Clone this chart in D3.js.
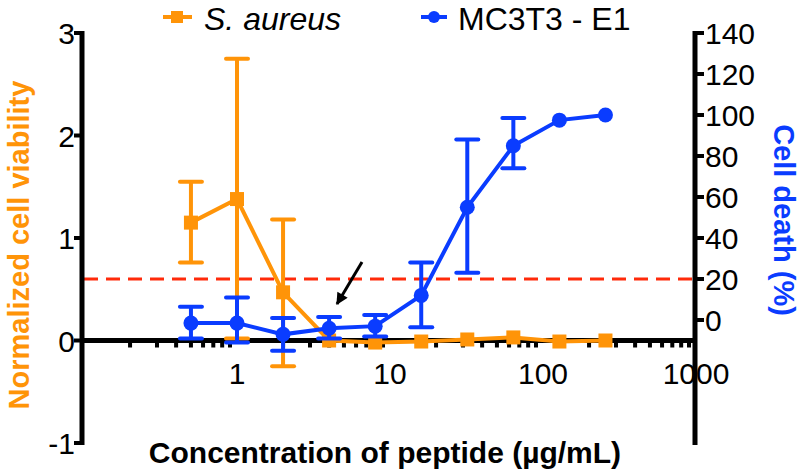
<!DOCTYPE html>
<html>
<head>
<meta charset="utf-8">
<script src="https://cdn.jsdelivr.net/npm/d3@7"></script>
<style>
  body { margin: 0; background: #fff; }
  text { font-family: "Liberation Sans", Arial, Helvetica, sans-serif; }
</style>
</head>
<body>
<svg id="chart" width="800" height="470"></svg>
<script>
// concentrations (ug/mL)
var conc = [0.5, 1, 2, 4, 8, 16, 32, 64, 128, 256];
// S. aureus normalized viability, left axis
var saMean = [1.15, 1.38, 0.47, 0.0, -0.02, -0.01, 0.01, 0.03, -0.01, 0.0];
var saLow  = [0.76, 0.02, -0.25, 0.0, -0.02, -0.01, 0.01, 0.03, -0.01, 0.0];
var saHigh = [1.55, 2.75, 1.18, 0.0, -0.02, -0.01, 0.01, 0.03, -0.01, 0.0];
// MC3T3 - E1 cell death (%), right axis
var mcMean = [-1.5, -1.5, -7, -4, -3, 12, 55, 85, 97.5, 100];
var mcLow  = [-9, -11, -15, -9, -8, -3.5, 23, 74, 97.5, 100];
var mcHigh = [6.5, 11, 1, 1.5, 2.5, 28, 88, 98.5, 97.5, 100];
var leftTicks = [-1, 0, 1, 2, 3];
var rightTicks = [0, 20, 40, 60, 80, 100, 120, 140];
var xLabels = [1, 10, 100, 1000];
var cutoff = 20;

var orange = "#ff9408", blue = "#0a3cff", red = "#ff2a0a";
var svg = d3.select("#chart");

var x = d3.scaleLog().domain([0.1, 1000]).range([84, 696]);
var yL = d3.scaleLinear().domain([-1, 3]).range([443, 33]);
var yR = d3.scaleLinear().domain([-60, 140]).range([443, 33]);

// minor x ticks
var minor = [];
[0.1, 1, 10, 100].forEach(function(d){
    for (var k = 2; k <= 9; k++) minor.push(d * k);
});
svg.append("g").selectAll("rect").data(minor).enter().append("rect")
    .attr("x", function(d){ return x(d) - 2; })
    .attr("y", yL(0))
    .attr("width", 4)
    .attr("height", 7)
    .attr("fill", "#000");

// x tick labels
svg.append("g").selectAll("text").data(xLabels).enter().append("text")
    .attr("x", function(d){ return x(d); })
    .attr("y", 384)
    .attr("text-anchor", "middle")
    .attr("font-size", 30)
    .text(function(d){ return d; });

// dashed cutoff line
svg.append("line")
    .attr("x1", x(0.1)).attr("x2", 693)
    .attr("y1", yR(cutoff)).attr("y2", yR(cutoff))
    .attr("stroke", red).attr("stroke-width", 3)
    .attr("stroke-dasharray", "14,8");

// left axis
var gL = svg.append("g");
gL.append("line").attr("x1", 82).attr("x2", 82).attr("y1", 31).attr("y2", 445)
    .attr("stroke", "#000").attr("stroke-width", 5);
gL.selectAll("line.t").data(leftTicks).enter().append("line").attr("class", "t")
    .attr("x1", 74).attr("x2", 82)
    .attr("y1", function(d){ return yL(d); }).attr("y2", function(d){ return yL(d); })
    .attr("stroke", "#000").attr("stroke-width", 4);
gL.selectAll("text").data(leftTicks).enter().append("text")
    .attr("x", 75).attr("y", function(d){ return yL(d) + 11; })
    .attr("text-anchor", "end").attr("font-size", 30)
    .text(function(d){ return d; });

// right axis
var gR = svg.append("g");
gR.append("line").attr("x1", 695).attr("x2", 695).attr("y1", 31).attr("y2", 445)
    .attr("stroke", "#000").attr("stroke-width", 5);
gR.selectAll("line.t").data(rightTicks).enter().append("line").attr("class", "t")
    .attr("x1", 695).attr("x2", 704)
    .attr("y1", function(d){ return yR(d); }).attr("y2", function(d){ return yR(d); })
    .attr("stroke", "#000").attr("stroke-width", 4);
gR.selectAll("text").data(rightTicks).enter().append("text")
    .attr("x", 705).attr("y", function(d){ return yR(d) + 11; })
    .attr("font-size", 30)
    .text(function(d){ return d; });

// x axis line
svg.append("line").attr("x1", 82).attr("x2", 695).attr("y1", yL(0)).attr("y2", yL(0))
    .attr("stroke", "#000").attr("stroke-width", 5);

// arrow
svg.append("defs").append("marker").attr("id", "ah")
    .attr("viewBox", "0 0 10 10").attr("refX", 9).attr("refY", 5)
    .attr("markerWidth", 4.5).attr("markerHeight", 4).attr("orient", "auto")
    .append("path").attr("d", "M0,0L10,5L0,10z").attr("fill", "#000");
svg.append("line").attr("x1", 362).attr("y1", 262).attr("x2", 337).attr("y2", 304)
    .attr("stroke", "#000").attr("stroke-width", 3).attr("marker-end", "url(#ah)");

function drawSeries(mean, low, high, y, color, shape) {
    var g = svg.append("g");
    var idx = d3.range(conc.length);
    g.selectAll("line.e").data(idx).enter().append("line").attr("class", "e")
        .attr("x1", function(i){ return x(conc[i]); }).attr("x2", function(i){ return x(conc[i]); })
        .attr("y1", function(i){ return y(low[i]); }).attr("y2", function(i){ return y(high[i]); })
        .attr("stroke", color).attr("stroke-width", 4);
    [low, high].forEach(function(arr){
        g.selectAll(null).data(idx.filter(function(i){ return high[i] !== low[i]; })).enter().append("line")
            .attr("x1", function(i){ return x(conc[i]) - 11; }).attr("x2", function(i){ return x(conc[i]) + 11; })
            .attr("y1", function(i){ return y(arr[i]); }).attr("y2", function(i){ return y(arr[i]); })
            .attr("stroke", color).attr("stroke-width", 4).attr("stroke-linecap", "round");
    });
    var line = d3.line().x(function(i){ return x(conc[i]); }).y(function(i){ return y(mean[i]); });
    g.append("path").datum(idx).attr("d", line)
        .attr("fill", "none").attr("stroke", color).attr("stroke-width", 4);
    if (shape === "square") {
        g.selectAll("rect").data(idx).enter().append("rect")
            .attr("x", function(i){ return x(conc[i]) - 7; })
            .attr("y", function(i){ return y(mean[i]) - 7; })
            .attr("width", 14).attr("height", 14).attr("fill", color);
    } else {
        g.selectAll("circle").data(idx).enter().append("circle")
            .attr("cx", function(i){ return x(conc[i]); })
            .attr("cy", function(i){ return y(mean[i]); })
            .attr("r", 7.5).attr("fill", color);
    }
}
drawSeries(saMean, saLow, saHigh, yL, orange, "square");
drawSeries(mcMean, mcLow, mcHigh, yR, blue, "circle");

// legend
var lg = svg.append("g");
lg.append("line").attr("x1", 163).attr("x2", 192).attr("y1", 17).attr("y2", 17)
    .attr("stroke", orange).attr("stroke-width", 4);
lg.append("rect").attr("x", 171).attr("y", 11).attr("width", 12).attr("height", 12).attr("fill", orange);
lg.append("text").attr("x", 204).attr("y", 30).attr("font-size", 32).attr("font-style", "italic")
    .text("S. aureus");
lg.append("line").attr("x1", 421).attr("x2", 447).attr("y1", 17).attr("y2", 17)
    .attr("stroke", blue).attr("stroke-width", 4);
lg.append("circle").attr("cx", 434).attr("cy", 17).attr("r", 6).attr("fill", blue);
lg.append("text").attr("x", 458).attr("y", 30).attr("font-size", 32).text("MC3T3 - E1");

// axis titles
svg.append("text").attr("transform", "translate(29,245) rotate(-90)")
    .attr("text-anchor", "middle").attr("font-size", 29).attr("font-weight", "bold")
    .attr("fill", orange).text("Normalized cell viability");
svg.append("text").attr("transform", "translate(774,220) rotate(90)")
    .attr("text-anchor", "middle").attr("font-size", 29).attr("font-weight", "bold")
    .attr("fill", blue).text("Cell death (%)");
svg.append("text").attr("x", 385).attr("y", 463)
    .attr("text-anchor", "middle").attr("font-size", 30).attr("font-weight", "bold")
    .text("Concentration of peptide (\u00b5g/mL)");
</script>
</body>
</html>
